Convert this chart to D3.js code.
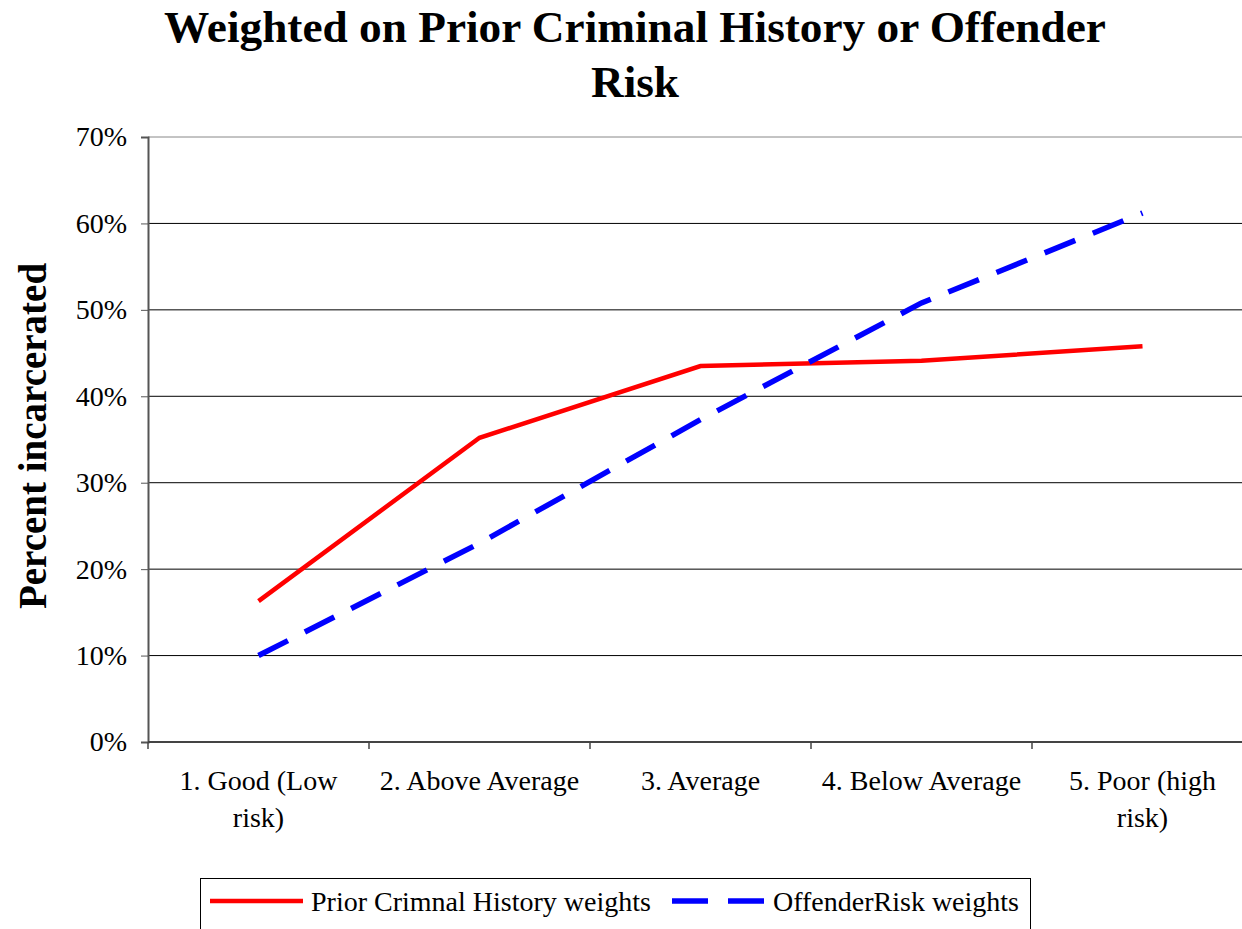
<!DOCTYPE html>
<html>
<head>
<meta charset="utf-8">
<script src="https://cdn.jsdelivr.net/npm/d3@7"></script>
<style>
  body { margin: 0; background: #fff; }
  text { font-family: "Liberation Serif", "Times New Roman", serif; }
</style>
</head>
<body>
<script>
var w = 1242,
    h = 929;

var categories = ["1. Good (Low risk)", "2. Above Average", "3. Average", "4. Below Average", "5. Poor (high risk)"];
var priorHistory = [0.163, 0.352, 0.435, 0.441, 0.458];
var offenderRisk = [0.100, 0.230, 0.373, 0.508, 0.612];
var yTicks = [0, 0.1, 0.2, 0.3, 0.4, 0.5, 0.6, 0.7];

var series = [
  { name: "Prior Crimnal History weights", values: priorHistory, color: "#ff0000", width: 4.5, dash: null },
  { name: "OffenderRisk weights", values: offenderRisk, color: "#0000ff", width: 5.5, dash: "33,19" }
];

var plotLeft = 148, plotRight = 1253, plotTop = 137, plotBottom = 742;

var svg = d3.select("body").append("svg")
    .attr("width", w)
    .attr("height", h);

var x = d3.scalePoint()
    .domain(categories)
    .range([plotLeft, plotRight])
    .padding(0.5);

var y = d3.scaleLinear()
    .domain([0, 0.7])
    .range([plotBottom, plotTop]);

// title
svg.append("text")
    .attr("x", 635).attr("y", 42)
    .attr("text-anchor", "middle")
    .attr("font-size", 45.3).attr("font-weight", "bold")
    .text("Weighted on Prior Criminal History or Offender");
svg.append("text")
    .attr("x", 635).attr("y", 97)
    .attr("text-anchor", "middle")
    .attr("font-size", 45.3).attr("font-weight", "bold")
    .text("Risk");

// gridlines
svg.append("g").selectAll("line")
    .data(yTicks.slice(1))
  .enter().append("line")
    .attr("x1", plotLeft).attr("x2", w)
    .attr("y1", function(d) { return y(d); })
    .attr("y2", function(d) { return y(d); })
    .attr("stroke", function(d) { return d == 0.7 ? "#888" : "#000"; })
    .attr("stroke-width", 1);

// y axis
var yAxis = svg.append("g")
    .attr("transform", "translate(" + plotLeft + ",0)")
    .call(d3.axisLeft(y).tickValues(yTicks).tickFormat(d3.format(".0%")).tickSize(7).tickPadding(14));
yAxis.select(".domain").attr("stroke", "#555").attr("stroke-width", 2);
yAxis.selectAll(".tick line").attr("stroke", "#555");
yAxis.selectAll("text").attr("font-size", 28).attr("fill", "#000")
    .attr("font-family", "Liberation Serif");

// x axis
var xAxis = svg.append("g")
    .attr("transform", "translate(0," + plotBottom + ")")
    .call(d3.axisBottom(x).tickSize(0).tickFormat(""));
xAxis.select(".domain").attr("d", "M" + plotLeft + ",0H" + w).attr("stroke", "#444").attr("stroke-width", 2);

// tick marks between categories
var step = x.step();
svg.append("g").selectAll("line")
    .data(categories)
  .enter().append("line")
    .attr("x1", function(d) { return x(d) - step / 2; })
    .attr("x2", function(d) { return x(d) - step / 2; })
    .attr("y1", plotBottom).attr("y2", plotBottom + 7)
    .attr("stroke", "#444").attr("stroke-width", 1.5);

// category labels, wrapped
var labels = svg.append("g").selectAll("text")
    .data(categories)
  .enter().append("text")
    .attr("text-anchor", "middle")
    .attr("font-size", 28)
    .attr("x", function(d) { return x(d); })
    .attr("y", 790);

labels.each(function(d) {
  var el = d3.select(this),
      words = d.split(" "),
      line = [],
      lines = [];
  var tspan = el.append("tspan");
  words.forEach(function(word) {
    line.push(word);
    tspan.text(line.join(" "));
    if (tspan.node().getComputedTextLength() > 205 && line.length > 1) {
      line.pop();
      lines.push(line.join(" "));
      line = [word];
    }
  });
  lines.push(line.join(" "));
  tspan.remove();
  lines.forEach(function(l, i) {
    el.append("tspan")
      .attr("x", x(d))
      .attr("dy", i == 0 ? 0 : 37)
      .text(l);
  });
});

// y label
svg.append("text")
    .attr("transform", "translate(46,436) rotate(-90)")
    .attr("text-anchor", "middle")
    .attr("font-size", 39).attr("font-weight", "bold")
    .text("Percent incarcerated");

// lines
var line = d3.line()
    .x(function(d, i) { return x(categories[i]); })
    .y(function(d) { return y(d); });

svg.append("g").selectAll("path")
    .data(series)
  .enter().append("path")
    .attr("d", function(d) { return line(d.values); })
    .attr("fill", "none")
    .attr("stroke", function(d) { return d.color; })
    .attr("stroke-width", function(d) { return d.width; })
    .attr("stroke-dasharray", function(d) { return d.dash; });

// legend
var legend = svg.append("g");
legend.append("rect")
    .attr("x", 200.5).attr("y", 878.5)
    .attr("width", 830).attr("height", 70)
    .attr("fill", "#fff").attr("stroke", "#000").attr("stroke-width", 1);

var legendX = [210, 672];
series.forEach(function(s, i) {
  legend.append("line")
      .attr("x1", legendX[i]).attr("x2", legendX[i] + 93)
      .attr("y1", 901).attr("y2", 901)
      .attr("stroke", s.color)
      .attr("stroke-width", s.width)
      .attr("stroke-dasharray", s.dash ? "36,20" : null);
  legend.append("text")
      .attr("x", legendX[i] + 101).attr("y", 911)
      .attr("font-size", 28)
      .text(s.name);
});
</script>
</body>
</html>
